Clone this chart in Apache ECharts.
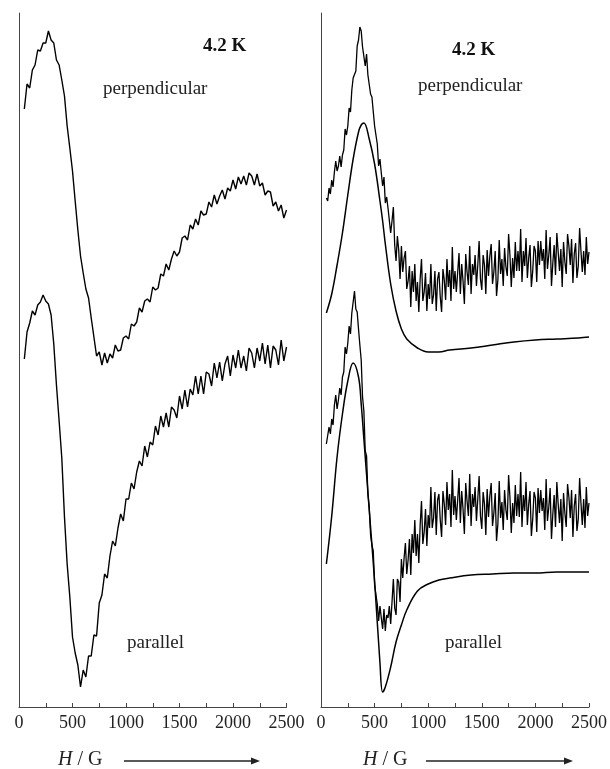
<!DOCTYPE html>
<html>
<head>
<meta charset="utf-8">
<script src="https://cdn.jsdelivr.net/npm/echarts@6/dist/echarts.min.js"></script>
<style>html,body{margin:0;padding:0;background:#fff}#c{width:610px;height:769px}</style>
</head>
<body>
<div id="c"></div>
<script>
// Field values (G) for the left-panel measured spectra
var fieldH = [50,75,100,125,150,175,200,225,250,275,
  300,325,350,375,400,425,450,475,500,525,
  550,575,600,625,650,675,700,725,750,775,
  800,825,850,875,900,925,950,975,1000,1025,
  1050,1075,1100,1125,1150,1175,1200,1225,1250,1275,
  1300,1325,1350,1375,1400,1425,1450,1475,1500,1525,
  1550,1575,1600,1625,1650,1675,1700,1725,1750,1775,
  1800,1825,1850,1875,1900,1925,1950,1975,2000,2025,
  2050,2075,2100,2125,2150,2175,2200,2225,2250,2275,
  2300,2325,2350,2375,2400,2425,2450,2475,2500];
// Field values (G) for the right-panel measured spectra (finer step)
var fieldH2 = [50,62.5,75,87.5,100,112.5,125,137.5,150,162.5,175,187.5,200,212.5,225,237.5,
  250,262.5,275,287.5,300,312.5,325,337.5,350,362.5,375,387.5,400,412.5,425,437.5,
  450,462.5,475,487.5,500,512.5,525,537.5,550,562.5,575,587.5,600,612.5,625,637.5,
  650,662.5,675,687.5,700,712.5,725,737.5,750,762.5,775,787.5,800,812.5,825,837.5,
  850,862.5,875,887.5,900,912.5,925,937.5,950,962.5,975,987.5,1000,1012.5,1025,1037.5,
  1050,1062.5,1075,1087.5,1100,1112.5,1125,1137.5,1150,1162.5,1175,1187.5,1200,1212.5,1225,1237.5,
  1250,1262.5,1275,1287.5,1300,1312.5,1325,1337.5,1350,1362.5,1375,1387.5,1400,1412.5,1425,1437.5,
  1450,1462.5,1475,1487.5,1500,1512.5,1525,1537.5,1550,1562.5,1575,1587.5,1600,1612.5,1625,1637.5,
  1650,1662.5,1675,1687.5,1700,1712.5,1725,1737.5,1750,1762.5,1775,1787.5,1800,1812.5,1825,1837.5,
  1850,1862.5,1875,1887.5,1900,1912.5,1925,1937.5,1950,1962.5,1975,1987.5,2000,2012.5,2025,2037.5,
  2050,2062.5,2075,2087.5,2100,2112.5,2125,2137.5,2150,2162.5,2175,2187.5,2200,2212.5,2225,2237.5,
  2250,2262.5,2275,2287.5,2300,2312.5,2325,2337.5,2350,2362.5,2375,2387.5,2400,2412.5,2425,2437.5,
  2450,2462.5,2475,2487.5,2500];
// Field values (G) for the simulated spectra
var fitH = [50,100,150,200,250,300,350,375,400,450,500,550,575,600,650,700,750,800,900,1000,1100,1200,1400,1600,1800,2000,2200,2400,2500];

// Left panel: measured, perpendicular and parallel (arbitrary intensity)
var leftPerp = [598,623,619,637,642,657,656,664,664,676,
  667,664,647,642,627,611,581,559,536,506,
  477,451,434,418,409,389,370,351,355,342,
  354,344,353,349,362,356,357,369,371,368,
  383,381,385,399,395,406,408,405,420,417,
  419,433,431,443,437,448,456,451,455,469,
  471,467,482,478,488,482,496,492,493,505,
  500,512,503,511,517,508,519,516,527,518,
  530,523,531,522,534,531,522,533,521,524,
  512,516,515,501,505,496,502,489,497];
var leftPar = [348,375,384,396,392,402,405,412,406,403,
  392,363,322,286,249,190,143,110,70,54,
  42,20,37,30,51,51,72,71,104,112,
  133,129,151,166,161,179,193,186,208,208,
  224,218,235,246,241,261,250,265,262,281,
  272,291,280,294,280,300,297,289,311,298,
  317,300,318,312,331,313,331,313,335,333,
  321,344,329,345,326,343,351,331,352,339,
  357,339,351,336,359,354,339,359,346,364,
  343,362,339,361,357,342,367,346,360];

// Right panel: measured spectra
var rightPerp = [509,506,519,513,527,520,535,546,536,541,551,540,552,557,578,572,
  581,599,595,617,629,631,636,661,667,680,676,660,659,641,653,632,
  631,613,610,608,581,582,563,541,548,534,521,530,504,510,499,501,
  474,486,500,462,446,471,457,428,461,435,449,456,418,426,441,400,
  436,415,443,406,425,395,428,448,406,415,434,396,423,408,443,403,
  412,436,396,428,435,410,395,438,427,407,448,420,437,406,460,418,
  436,415,435,454,413,443,426,403,453,435,422,461,413,443,432,452,
  421,442,466,428,417,452,442,413,457,431,451,463,423,435,456,411,
  427,467,433,448,421,459,440,431,473,452,420,449,429,465,436,456,
  436,478,425,456,441,469,429,449,462,420,436,461,456,425,466,442,
  466,446,458,428,477,438,452,470,421,444,462,432,474,455,436,458,
  420,465,445,433,473,461,442,468,424,453,464,429,441,479,456,435,
  456,432,470,443,455];
var rightPar = [263,262,280,273,288,282,302,312,298,307,319,312,330,335,360,353,
  364,381,373,394,405,416,398,395,378,362,347,310,296,256,251,213,
  200,172,162,156,122,124,103,86,101,89,78,98,76,92,89,101,
  83,105,128,99,92,128,125,105,148,129,149,164,133,147,168,132,
  173,154,187,151,173,144,182,206,163,175,198,161,192,179,220,179,
  189,215,172,207,213,187,170,216,203,182,225,197,213,180,237,192,
  211,187,207,229,184,216,198,173,224,206,191,233,181,213,200,220,
  186,208,231,191,178,215,203,172,218,190,211,224,181,194,214,166,
  183,226,189,205,177,217,197,187,232,210,174,204,184,222,191,213,
  190,235,180,212,196,225,182,203,216,171,188,215,209,175,219,194,
  217,196,209,177,228,186,200,219,168,193,212,180,225,203,184,208,
  166,214,194,180,223,210,189,217,170,201,213,176,188,229,204,182,
  208,179,220,191,204];
// Right panel: simulated spectra
var rightPerpFit = [394,413,442,474,512,548,575,582,584,568,543,506,486,463,423,396,378,368,359,355,355,357,359,362,365,367,368,369,370];
var rightParFit = [143,191,250,293,326,344,330,303,268,197,126,44,15,20,40,65,82,97,116,123,127,129,132,133,134,134,135,135,135];

var xTicks = [0,500,1000,1500,2000,2500];

function pairs(xs, ys){ return ys.map(function(v,i){ return [xs[i], v]; }); }

var serif = 'Liberation Serif, Times New Roman, serif';
function xAxis(idx){
  return {
    type:'value', gridIndex: idx, min: xTicks[0], max: xTicks[xTicks.length-1], interval: 500,
    axisLine:{show:true, lineStyle:{color:'#444', width:1}},
    axisTick:{show:true, inside:true, length:4, lineStyle:{color:'#444'}},
    minorTick:{show:true, splitNumber:2, length:4, lineStyle:{color:'#444'}},
    axisLabel:{show:true, fontFamily:serif, fontSize:18, color:'#222', margin:7, showMaxLabel:true, showMinLabel:true,
      formatter:function(v){ return String(v); }},
    splitLine:{show:false}
  };
}
function yAxis(idx){
  return {
    type:'value', gridIndex: idx, min:0, max:694,
    axisLine:{show:true, lineStyle:{color:'#444', width:1}},
    axisTick:{show:false}, axisLabel:{show:false}, splitLine:{show:false}
  };
}
function line(idx, data, w, smooth){
  return {type:'line', xAxisIndex:idx, yAxisIndex:idx, data:data, showSymbol:false, symbol:'none',
    smooth: smooth || false, lineStyle:{color:'#000', width:w}, animation:false};
}

var chart = echarts.init(document.getElementById('c'));
chart.setOption({
  animation:false,
  grid:[
    {left:19, top:13, width:267.5, height:694},
    {left:321, top:13, width:268, height:694}
  ],
  xAxis:[xAxis(0), xAxis(1)],
  yAxis:[yAxis(0), yAxis(1)],
  series:[
    line(0, pairs(fieldH, leftPerp), 1.4),
    line(0, pairs(fieldH, leftPar), 1.4),
    line(1, pairs(fieldH2, rightPerp), 1.3),
    line(1, pairs(fieldH2, rightPar), 1.3),
    line(1, pairs(fitH, rightPerpFit), 1.5, 0.4),
    line(1, pairs(fitH, rightParFit), 1.5, 0.4)
  ],
  graphic:[
    {type:'text', left:203, top:37, style:{text:'4.2 K', font:'bold 19px '+serif, fill:'#111'}},
    {type:'text', left:452, top:41, style:{text:'4.2 K', font:'bold 19px '+serif, fill:'#111'}},
    {type:'text', left:103, top:80, style:{text:'perpendicular', font:'19px '+serif, fill:'#222'}},
    {type:'text', left:418, top:77, style:{text:'perpendicular', font:'19px '+serif, fill:'#222'}},
    {type:'text', left:127, top:634, style:{text:'parallel', font:'19px '+serif, fill:'#222'}},
    {type:'text', left:445, top:634, style:{text:'parallel', font:'19px '+serif, fill:'#222'}},
    {type:'text', left:58, top:750, style:{text:'{i|H} / G', rich:{i:{fontStyle:'italic', fontFamily:serif, fontSize:20, fill:'#222'}}, font:'20px '+serif, fill:'#222'}},
    {type:'text', left:363, top:750, style:{text:'{i|H} / G', rich:{i:{fontStyle:'italic', fontFamily:serif, fontSize:20, fill:'#222'}}, font:'20px '+serif, fill:'#222'}},
    {type:'line', shape:{x1:124, y1:761, x2:253, y2:761}, style:{stroke:'#222', lineWidth:1.5}},
    {type:'polygon', shape:{points:[[251,757.5],[260,761],[251,764.5]]}, style:{fill:'#222'}},
    {type:'line', shape:{x1:426, y1:761, x2:566, y2:761}, style:{stroke:'#222', lineWidth:1.5}},
    {type:'polygon', shape:{points:[[564,757.5],[573,761],[564,764.5]]}, style:{fill:'#222'}}
  ]
});
</script>
</body>
</html>
